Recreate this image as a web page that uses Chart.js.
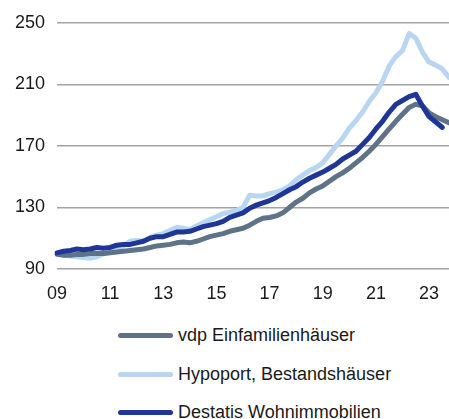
<!DOCTYPE html>
<html>
<head>
<meta charset="utf-8">
<script src="https://cdn.jsdelivr.net/npm/chart.js@4"></script>
<style>
  body { margin: 0; background: #fff; font-family: "Liberation Sans", Arial, sans-serif; }
  #wrap { position: relative; width: 449px; height: 419px; }
  #legend { position: absolute; left: 118px; top: 316px; }
  .row { height: 38.7px; display: flex; align-items: center; font-size: 18px; color: #1a1a1a; }
  .swatch { width: 55px; height: 5px; border-radius: 3px; margin-right: 5px; }
</style>
</head>
<body>
<div id="wrap">
  <canvas id="chart" width="449" height="305"></canvas>
  <div id="legend"></div>
</div>
<script>
// quartalsweise 2009 Q1 bis 2023 Q4
const years = ['09','10','11','12','13','14','15','16','17','18','19','20','21','22','23'];
const quarters = [];
years.forEach(y => { for (let q = 1; q <= 4; q++) quarters.push(y + 'Q' + q); });

const seriesNames = ['vdp Einfamilienhäuser', 'Hypoport, Bestandshäuser', 'Destatis Wohnimmobilien'];
const seriesColors = ['#5e7388', '#b8d5f1', '#1f3696'];

const vdp = [
  99.5, 99, 99, 99.5, 99.5, 100, 100, 100, 100.5, 101, 101.5, 102,
  102.5, 103, 104, 105, 105.5, 106, 107, 107.5, 107, 108, 109.5, 111,
  112, 113, 114.5, 115.5, 116.5, 118.5, 121, 123, 123.5, 124.5, 126.5, 130,
  133.5, 136, 139.5, 142, 144, 147, 150, 152.5, 155.5, 159, 162.5, 166.5,
  171, 176, 181, 186, 190.5, 195, 197, 196, 191.5, 189, 187, 185
];
const hypoport = [
  100, 99, 98.5, 98, 97.5, 97, 98, 100, 101, 103, 105, 108,
  108.5, 108, 110.5, 112, 113, 115, 117, 116.5, 115.5, 118, 120, 122,
  124, 126, 127, 128, 130, 138, 137.5, 137.5, 139, 140, 141.5, 144,
  148, 151, 154, 156, 159, 164.5, 170, 175, 181.5, 186.5, 192, 199,
  204.5, 212, 222, 228, 232, 243, 240, 231, 224.5, 222.5, 220, 214.5
];
const destatis = [
  100.5, 101.5, 102, 103, 102.5, 103, 104, 103.5, 104, 105.5, 106, 106,
  107, 108, 110, 111, 111, 112.5, 114, 114, 114.5, 116, 117.5, 118.5,
  119.5, 121, 123.5, 125, 126.5, 129.5, 131.5, 133, 134.5, 136.5, 139, 141.5,
  143.5, 146.5, 149, 151, 153, 155.5, 158, 161.5, 164, 166.5, 171, 175.5,
  181, 186, 192, 197, 199.5, 202, 203.5, 196, 189, 185.5, 182, null
];
const yTicks = [90, 130, 170, 210, 250];

const allData = [vdp, hypoport, destatis];
const drawOrder = [1, 2, 0];

const ctx = document.getElementById('chart');

new Chart(ctx, {
    type: 'line',
    data: {
        labels: quarters,
        datasets: allData.map((d, i) => ({
            label: seriesNames[i],
            data: d,
            borderColor: seriesColors[i],
            backgroundColor: seriesColors[i],
            borderWidth: 5,
            pointRadius: 0,
            tension: 0,
            borderJoinStyle: 'round',
            borderCapStyle: 'round',
            order: drawOrder[i]
        }))
    },
    options: {
        responsive: false,
        animation: false,
        layout: { padding: { top: 13, right: 0, bottom: 0, left: 0 } },
        scales: {
            x: {
                offset: false,
                grid: { display: false },
                border: { display: false },
                afterFit: scale => { scale.height = 36; },
                ticks: {
                    autoSkip: false,
                    maxRotation: 0,
                    padding: 6,
                    color: '#1a1a1a',
                    font: { family: 'Liberation Sans', size: 18 },
                    callback: function (val, idx) {
                        return idx % 8 === 0 ? years[idx / 4] : null;
                    }
                }
            },
            y: {
                min: yTicks[0],
                max: yTicks[yTicks.length - 1],
                afterFit: scale => { scale.width = 57; },
                afterBuildTicks: scale => { scale.ticks = yTicks.map(v => ({ value: v })); },
                grid: { color: '#a3a3a3', lineWidth: 1.5, drawTicks: false },
                border: { display: false },
                ticks: {
                    padding: 12,
                    color: '#1a1a1a',
                    font: { family: 'Liberation Sans', size: 18 }
                }
            }
        },
        plugins: {
            legend: { display: false },
            tooltip: { enabled: false }
        }
    }
});

// Legende
const legend = document.getElementById('legend');
seriesNames.forEach((name, i) => {
    const row = document.createElement('div');
    row.className = 'row';
    const sw = document.createElement('span');
    sw.className = 'swatch';
    sw.style.background = seriesColors[i];
    row.appendChild(sw);
    row.appendChild(document.createTextNode(name));
    legend.appendChild(row);
});
</script>
</body>
</html>
